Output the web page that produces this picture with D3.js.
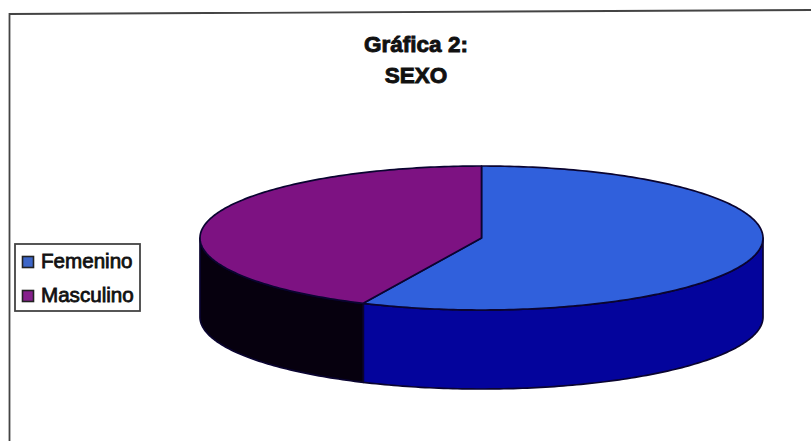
<!DOCTYPE html>
<html>
<head>
<meta charset="utf-8">
<script src="https://cdn.jsdelivr.net/npm/d3@7/dist/d3.min.js"></script>
<style>
html,body{margin:0;padding:0;background:#fff;}
svg{display:block;}
text{font-family:"Liberation Sans",Arial,sans-serif;fill:#111;}
</style>
</head>
<body>
<svg id="chart" width="811" height="441"></svg>
<script>
const categories = ["Femenino", "Masculino"];
const seriesValues = [56.9, 43.1];
const titleLines = ["Gráfica 2:", "SEXO"];
const topColors = ["#3060dc", "#7d1282"];
const sideColors = ["#04049c", "#06000e"];
const swatchColors = ["#3d66c8", "#86208c"];

const svg = d3.select("#chart");
const cx = 481.5, cy = 238, rx = 281.5, ry = 72, depth = 79;

// Frame of the chart area: left edge and a very slightly tilted top edge
svg.append("path")
  .attr("d", "M9.5,441V14L811,10")
  .attr("fill", "none").attr("stroke", "#444").attr("stroke-width", 1.8);

// Slices are computed on the unit circle and flattened into an ellipse
const pie = d3.pie().sort(null).startAngle(0).endAngle(2 * Math.PI);
const arcs = pie(seriesValues);
const px = a => cx + rx * Math.sin(a);
const py = (a, dz = 0) => cy - ry * Math.cos(a) + dz;

function rimPoints(a0, a1, dz) {
  const pts = [];
  const n = Math.max(2, Math.ceil((a1 - a0) * 60));
  d3.range(n + 1).forEach(i => {
    const a = a0 + (a1 - a0) * i / n;
    pts.push([px(a), py(a, dz)]);
  });
  return pts;
}
const line = d3.line();

// Side walls: only the front half of the rim is visible
arcs.forEach((d, i) => {
  const a0 = Math.max(d.startAngle, Math.PI / 2);
  const a1 = Math.min(d.endAngle, 3 * Math.PI / 2);
  if (a1 <= a0) return;
  const pts = rimPoints(a0, a1, 0).concat(rimPoints(a0, a1, depth).reverse());
  svg.append("path")
    .attr("d", line(pts) + "Z")
    .attr("fill", sideColors[i])
    .attr("stroke", "#0a0430").attr("stroke-width", 1.7).attr("stroke-linejoin", "round");
});

// Top faces of the slices
arcs.forEach((d, i) => {
  const pts = [[cx, cy]].concat(rimPoints(d.startAngle, d.endAngle, 0));
  svg.append("path")
    .attr("d", line(pts) + "Z")
    .attr("fill", topColors[i])
    .attr("stroke", "#0a0430").attr("stroke-width", 1.7).attr("stroke-linejoin", "round");
});

// Title
svg.append("g").selectAll("text").data(titleLines).join("text")
  .attr("x", 416).attr("y", (d, i) => 52 + i * 31)
  .attr("text-anchor", "middle")
  .attr("font-size", 22.5).attr("font-weight", "bold")
  .attr("stroke", "#111").attr("stroke-width", 0.9)
  .text(d => d);

// Legend
const legend = svg.append("g");
legend.append("rect")
  .attr("x", 15).attr("y", 244).attr("width", 125).attr("height", 67)
  .attr("fill", "#fff").attr("stroke", "#444").attr("stroke-width", 1.8);
const rows = legend.selectAll("g").data(categories).join("g")
  .attr("transform", (d, i) => `translate(0,${268 + i * 34})`);
rows.append("rect")
  .attr("x", 22.5).attr("y", -11.5).attr("width", 11).attr("height", 11)
  .attr("fill", (d, i) => swatchColors[i])
  .attr("stroke", "#222").attr("stroke-width", 1.6);
rows.append("text")
  .attr("x", 41).attr("y", 0)
  .attr("font-size", 20.6)
  .attr("stroke", "#111").attr("stroke-width", 0.8)
  .text(d => d);
</script>
</body>
</html>
